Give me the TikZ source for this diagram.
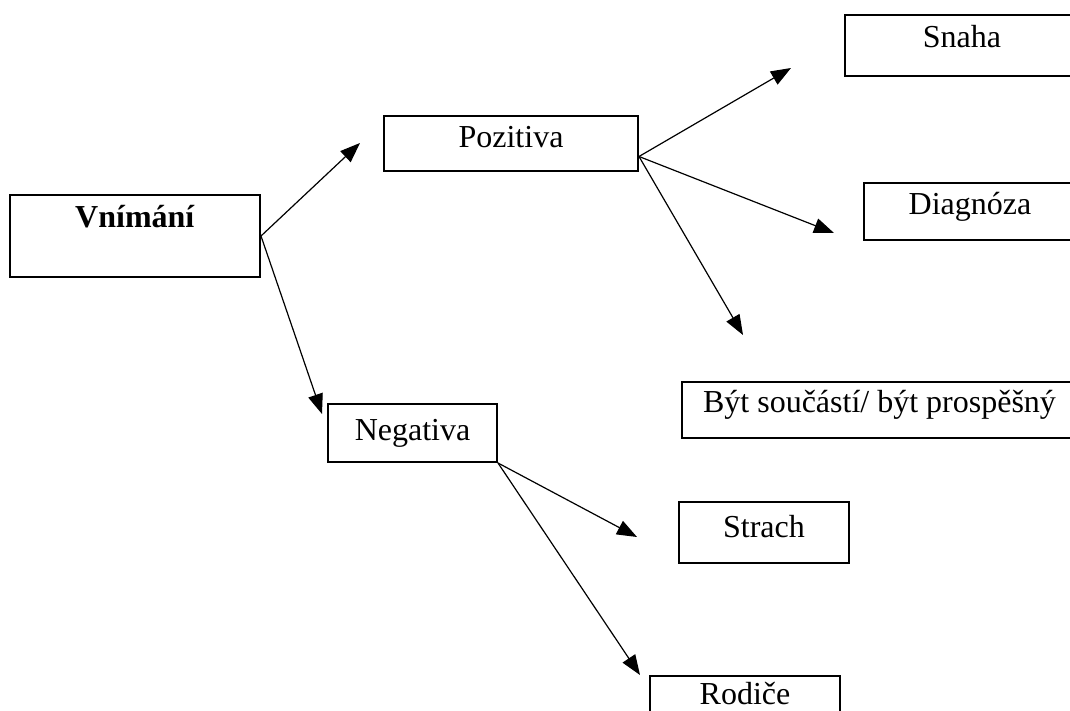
\documentclass[tikz,border=0pt]{standalone}
\usepackage{fontspec}
\setmainfont{Liberation Serif}
\usetikzlibrary{arrows.meta}
\tikzstyle{box} = [rectangle, draw=black, line width=2pt, inner sep=0pt, anchor=base, font=\fontsize{32}{38}\selectfont]
\tikzstyle{arrow} = [line width=1.2pt, -{Triangle[length=20pt,width=15pt]}]

\begin{document}
\begin{tikzpicture}[x=1pt,y=-1pt]
        \useasboundingbox (0,0) rectangle (1070,711);
        \clip (0,0) rectangle (1070,711);
        \node (vnim) [box, minimum width=250pt, text height=33pt, text depth=49pt] at (135,228) {\textbf{Vnímání}};
        \node (poz) [box, minimum width=254pt, text height=32pt, text depth=23pt] at (511,148) {Pozitiva};
        \node (neg) [box, minimum width=169pt, text height=36pt, text depth=22pt] at (412.5,440) {Negativa};
        \node (snaha) [box, minimum width=234pt, text height=33pt, text depth=28pt] at (962,48) {Snaha};
        \node (diag) [box, minimum width=212pt, text height=32pt, text depth=25pt] at (970,215) {Diagnóza};
        \node (byt) [box, minimum width=395pt, text height=30pt, text depth=26pt] at (879.5,412) {Být součástí/ být prospěšný};
        \node (strach) [box, minimum width=170pt, text height=35pt, text depth=26pt] at (764,537) {Strach};
        \node (rodice) [box, minimum width=190pt, text height=28pt, text depth=30pt] at (745,704) {Rodiče};

        % free arrow ends
        \coordinate (tpoz) at (360,143);
        \coordinate (tneg) at (322,414);
        \coordinate (tsnaha) at (791,68);
        \coordinate (tdiag) at (834,233);
        \coordinate (tbyt) at (743,335);
        \coordinate (tstrach) at (637,537);
        \coordinate (trod) at (640,675);

        \draw [arrow] (vnim.east) -- (tpoz);
        \draw [arrow] (vnim.east) -- (tneg);
        \draw [arrow] ([yshift=-13pt]poz.east) -- (tsnaha);
        \draw [arrow] ([yshift=-13pt]poz.east) -- (tdiag);
        \draw [arrow] ([yshift=-13pt]poz.east) -- (tbyt);
        \draw [arrow] (neg.south east) -- (tstrach);
        \draw [arrow] (neg.south east) -- (trod);
    \end{tikzpicture}
\end{document}
